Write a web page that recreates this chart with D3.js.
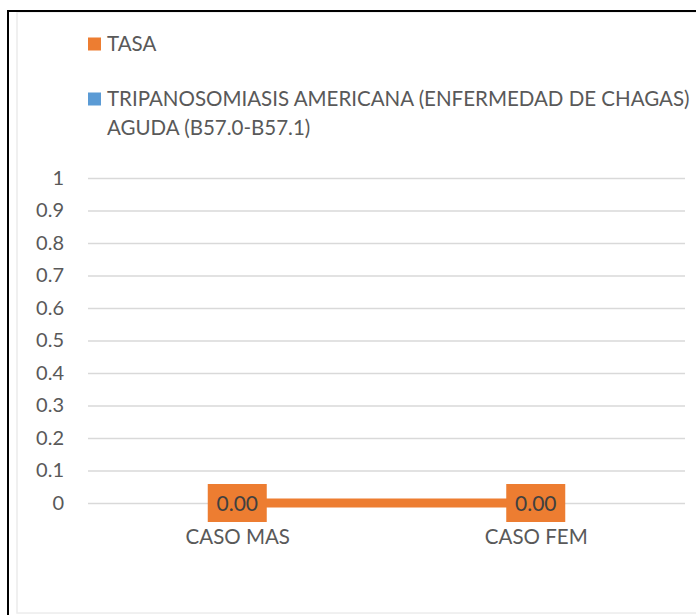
<!DOCTYPE html>
<html lang="es">
<head>
    <meta charset="UTF-8" />
    <title>Tasa - Tripanosomiasis americana</title>
    <script src="https://d3js.org/d3.v7.min.js"></script>
    <style>
        body {
            margin: 0;
            background: #fff;
            font-family: Lato, "Open Sans", sans-serif;
        }
        .tick text {
            fill: #595959;
            font-size: 20px;
            font-family: Lato, sans-serif;
        }
        .legend text {
            fill: #595959;
            font-size: 20.5px;
        }
    </style>
</head>
<body>
<svg id="chart" width="696" height="615"></svg>
<script>
    // datos
    const categories = ["CASO MAS", "CASO FEM"];
    const tasaValues = [0, 0];
    const casosValues = [0, 0];   // serie azul (sin altura visible)
    const tasaLabels = ["0.00", "0.00"];
    const yTicks = [0, 0.1, 0.2, 0.3, 0.4, 0.5, 0.6, 0.7, 0.8, 0.9, 1];
    const legendItems = [
        { name: ["TASA"], color: "#ED7D31" },
        { name: ["TRIPANOSOMIASIS AMERICANA (ENFERMEDAD DE CHAGAS)", "AGUDA (B57.0-B57.1)"], color: "#5B9BD5" }
    ];

    const svg = d3.select("#chart");

    // marco
    svg.append("rect")
        .attr("x", 17).attr("y", 12)
        .attr("width", 760).attr("height", 601)
        .attr("fill", "none")
        .attr("stroke", "#ececec")
        .attr("stroke-width", 1.5);

    svg.append("rect")
        .attr("x", 8).attr("y", 11)
        .attr("width", 800).attr("height", 700)
        .attr("fill", "none")
        .attr("stroke", "#000")
        .attr("stroke-width", 2);

    // escalas
    const plotLeft = 88, plotRight = 685;
    const x = d3.scalePoint()
        .domain(categories)
        .range([plotLeft, plotRight])
        .padding(0.5);

    const y = d3.scaleLinear()
        .domain([0, 1])
        .range([503, 178]);

    // eje Y con líneas de cuadrícula
    const yAxis = svg.append("g")
        .attr("transform", `translate(${plotLeft},0)`)
        .call(d3.axisLeft(y)
            .tickValues(yTicks)
            .tickSize(-(plotRight - plotLeft))
            .tickPadding(24)
            .tickFormat(d => String(+d.toFixed(1))));
    yAxis.select(".domain").remove();
    yAxis.selectAll(".tick line")
        .attr("stroke", "#d9d9d9")
        .attr("stroke-width", 1.3);

    // barras (valor 0)
    svg.selectAll(".bar")
        .data(casosValues)
        .enter().append("rect")
        .attr("class", "bar")
        .attr("x", (d, i) => x(categories[i]) - 30)
        .attr("width", 60)
        .attr("y", d => y(d))
        .attr("height", d => y(0) - y(d))
        .attr("fill", "#5B9BD5");

    // eje X
    const xAxis = svg.append("g")
        .attr("transform", `translate(0,${y(0)})`)
        .call(d3.axisBottom(x).tickSize(0).tickPadding(26));
    xAxis.select(".domain").remove();
    xAxis.selectAll(".tick text").style("font-size", "20.5px");

    // línea TASA
    const line = d3.line()
        .x((d, i) => x(categories[i]))
        .y(d => y(d));

    svg.append("path")
        .datum(tasaValues)
        .attr("d", line)
        .attr("fill", "none")
        .attr("stroke", "#ED7D31")
        .attr("stroke-width", 9);

    // etiquetas de datos
    const lbl = svg.selectAll(".lbl")
        .data(tasaValues)
        .enter().append("g")
        .attr("class", "lbl")
        .attr("transform", (d, i) => `translate(${x(categories[i])},${y(d)})`);

    lbl.append("rect")
        .attr("x", -29.5).attr("y", -19)
        .attr("width", 59).attr("height", 38)
        .attr("fill", "#ED7D31");

    lbl.append("text")
        .attr("text-anchor", "middle")
        .attr("dy", "0.36em")
        .attr("fill", "#404040")
        .style("font-size", "21px")
        .text((d, i) => tasaLabels[i]);

    // leyenda
    const legend = svg.append("g").attr("class", "legend");
    const legendY = [37.5, 92.5];

    legendItems.forEach((item, i) => {
        const g = legend.append("g")
            .attr("transform", `translate(88,${legendY[i]})`);
        g.append("rect")
            .attr("width", 13)
            .attr("height", 13)
            .attr("fill", item.color);
        item.name.forEach((t, j) => {
            g.append("text")
                .attr("x", 19)
                .attr("y", 13.5 + j * 29)
                .text(t);
        });
    });
</script>
</body>
</html>
